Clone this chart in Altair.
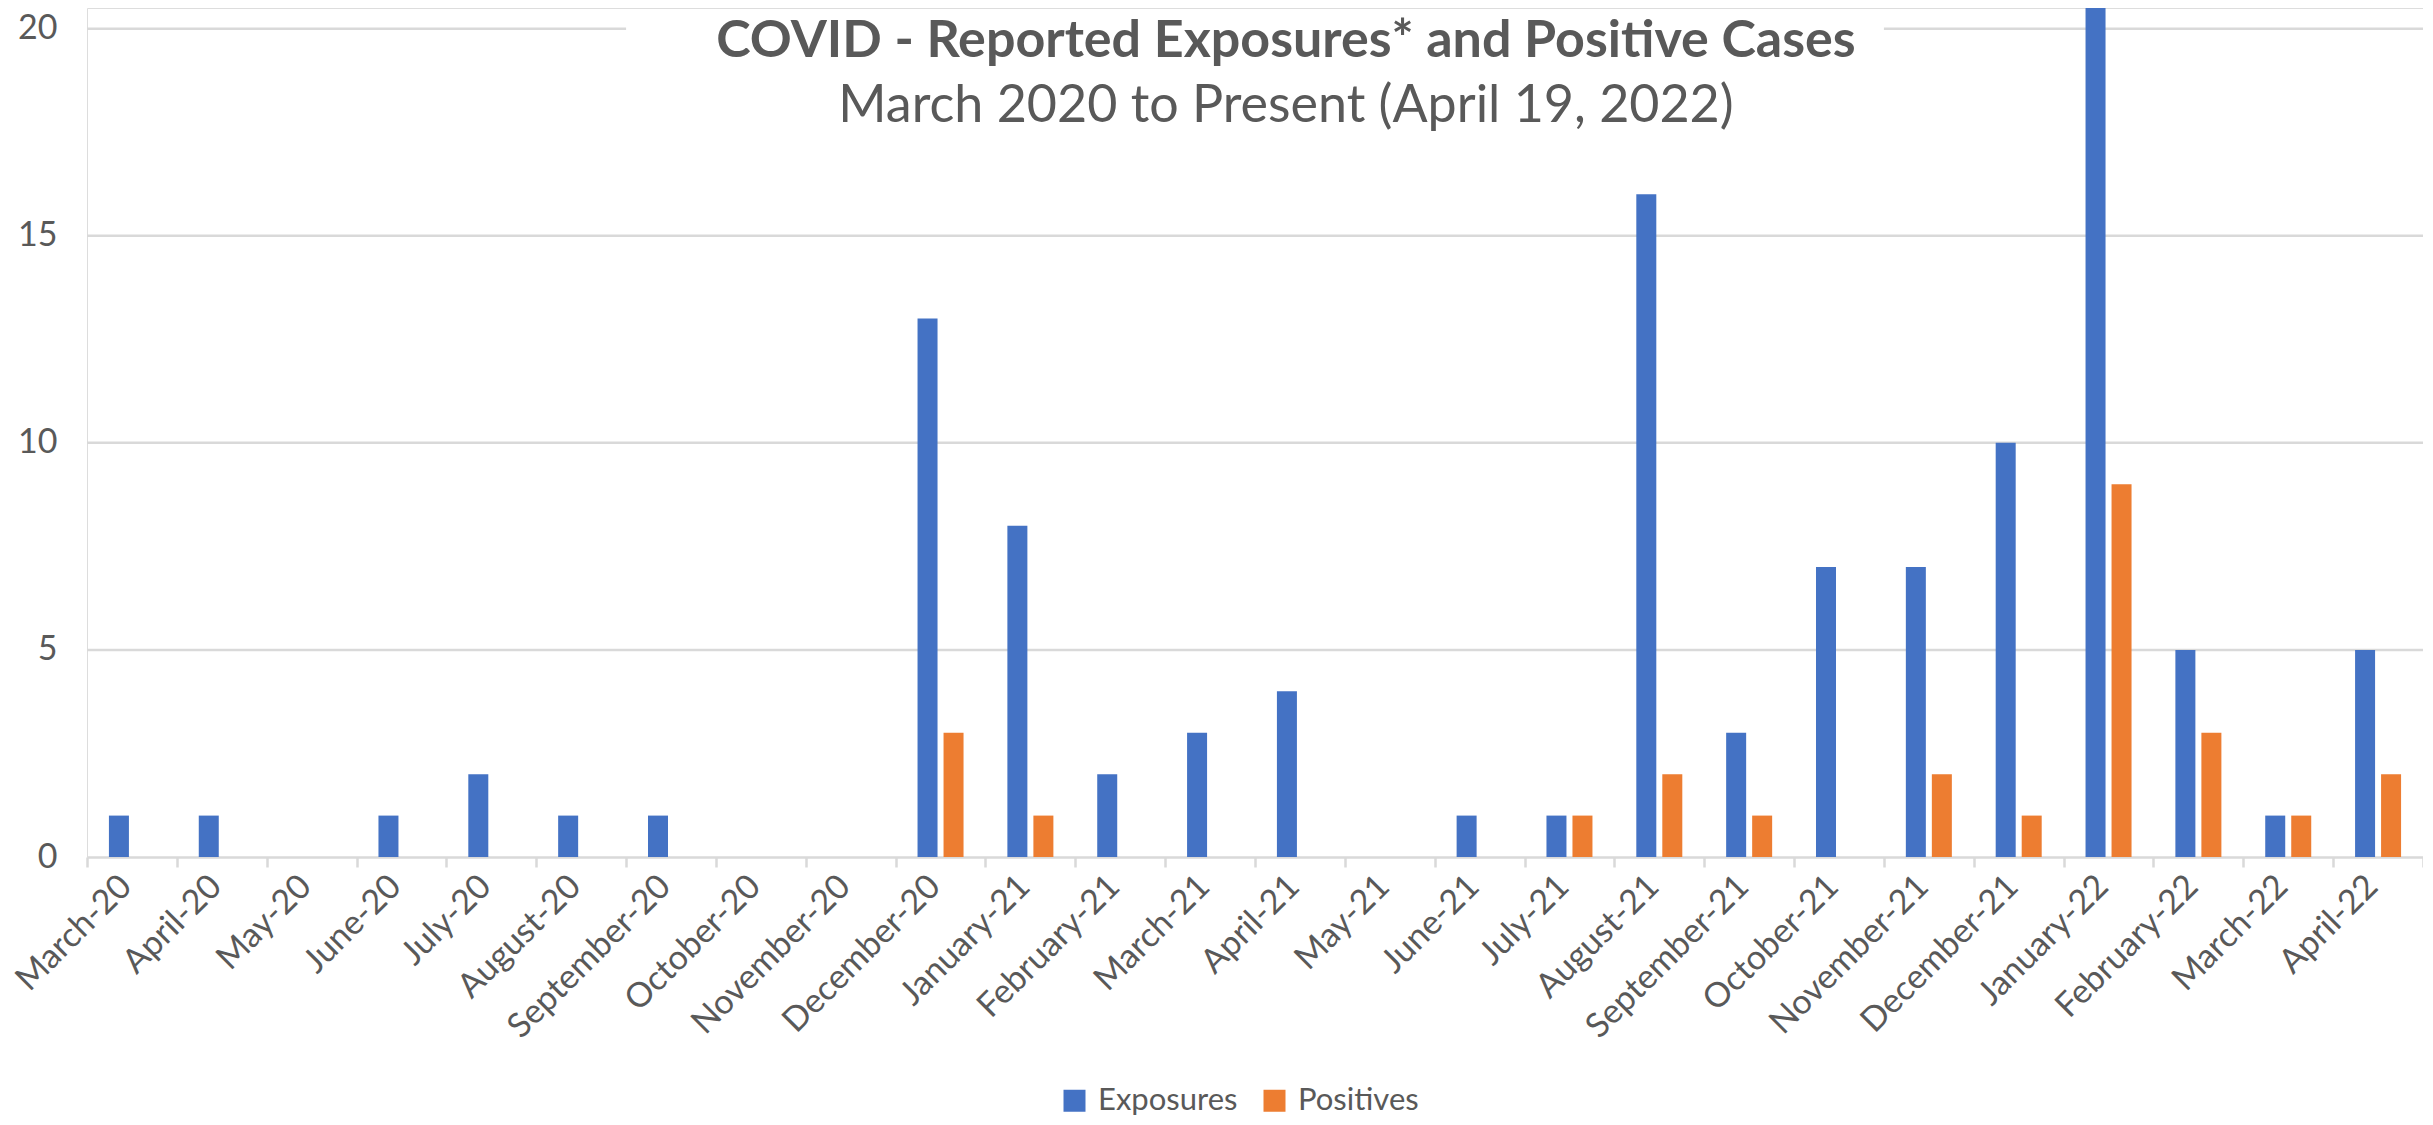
import altair as alt
import pandas as pd

months = ["March-20", "April-20", "May-20", "June-20", "July-20", "August-20",
          "September-20", "October-20", "November-20", "December-20",
          "January-21", "February-21", "March-21", "April-21", "May-21",
          "June-21", "July-21", "August-21", "September-21", "October-21",
          "November-21", "December-21", "January-22", "February-22",
          "March-22", "April-22"]
exposures = [1, 1, 0, 1, 2, 1, 1, 0, 0, 13, 8, 2, 3, 4, 0, 1, 1, 16, 3, 7, 7, 10, 22, 5, 1, 5]
positives = [0, 0, 0, 0, 0, 0, 0, 0, 0, 3, 1, 0, 0, 0, 0, 0, 1, 2, 1, 0, 2, 1, 9, 3, 1, 2]
series = ["Exposures", "Positives"]
colors = ["#4472C4", "#ED7D31"]
y_ticks = [0, 5, 10, 15, 20]

# gridlines (value, from month index, to month index); top line is broken by the title box
grid_y = [5, 10, 15, 20, 20]
grid_from = [0, 0, 0, 0, 20]
grid_to = [26, 26, 26, 6, 26]

rows = []
for m, e, p in zip(months, exposures, positives):
    rows.append({"month": m, "series": "Exposures", "value": e})
    rows.append({"month": m, "series": "Positives", "value": p})
df = pd.DataFrame(rows)
grid_df = pd.DataFrame({"y": grid_y, "x0": grid_from, "x1": grid_to})

FONT = "Lato"
GREY = "#595959"
LINE = "#d9d9d9"
W, H = 2336, 849
YMAX = 20.5
FS = 34

yscale = alt.Scale(domain=[0, YMAX], nice=False, zero=True)
yaxis = alt.Axis(title=None, values=y_ticks, grid=False, domain=False,
                 ticks=False, tickSize=0, labelPadding=30, labelFont=FONT,
                 labelFontSize=FS, labelColor=GREY)

grid = alt.Chart(grid_df).mark_rule(color=LINE, strokeWidth=2.5).encode(
    x=alt.X("x0:Q", scale=alt.Scale(domain=[0, 26], nice=False, zero=False), axis=None),
    x2="x1:Q",
    y=alt.Y("y:Q", scale=yscale, axis=yaxis),
)

bars = alt.Chart(df).mark_bar(clip=True).encode(
    x=alt.X("month:N", sort=months,
            scale=alt.Scale(paddingInner=0, paddingOuter=0),
            axis=alt.Axis(title=None, labelAngle=-45, labelAlign="right",
                          labelBaseline="middle", labelFont=FONT, labelFontSize=FS,
                          labelColor=GREY, labelPadding=14, labelOffset=-6,
                          labelLimit=0,
                          tickBand="extent", ticks=True, tickSize=10,
                          tickColor=LINE, tickWidth=2.5,
                          domainColor=LINE, domainWidth=2.5, grid=False,
                          labelOverlap=False)),
    xOffset=alt.XOffset("series:N", sort=series,
                        scale=alt.Scale(paddingInner=0.2308, paddingOuter=0.843)),
    y=alt.Y("value:Q", scale=yscale, axis=yaxis),
    color=alt.Color("series:N", sort=series,
                    scale=alt.Scale(domain=series, range=colors),
                    legend=alt.Legend(title=None, orient="none", legendX=972, legendY=1077,
                                      direction="horizontal", symbolType="square",
                                      symbolSize=484, symbolStrokeWidth=0,
                                      labelFont=FONT, labelFontSize=31, labelColor=GREY,
                                      labelOffset=8, columnPadding=21)),
)

chart = alt.layer(grid, bars).resolve_scale(x="independent").properties(
    width=W, height=H,
    autosize=alt.AutoSizeParams(type="none"),
    padding={"left": 79, "top": 0, "right": 0, "bottom": 260},
    title=alt.Title(
        text="COVID - Reported Exposures* and Positive Cases",
        subtitle="March 2020 to Present (April 19, 2022)",
        font=FONT, fontSize=52, fontWeight="bold", color=GREY,
        subtitleFont=FONT, subtitleFontSize=52, subtitleColor=GREY,
        subtitleFontWeight="normal", subtitlePadding=13,
        anchor="middle", orient="top", offset=-125, dx=31,
    ),
).configure_view(strokeWidth=0).configure(background="white")

chart.save("out.html", embed_options={"renderer": "svg", "actions": False})
